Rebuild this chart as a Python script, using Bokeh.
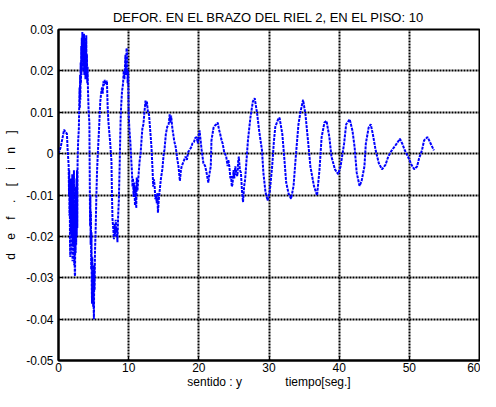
from bokeh.plotting import figure
from bokeh.models import Range1d, FixedTicker, CustomJSTickFormatter
from bokeh.embed import file_html
from bokeh.resources import INLINE

title_text = "DEFOR. EN EL BRAZO DEL RIEL 2, EN EL PISO: 10"
xlabel_text = "sentido : y" + "\u00a0" * 13 + "tiempo[seg.]"
ylabel_text = "\u00a0\u00a0\u00a0\u00a0".join(list("def.[in]"))
x_ticks = [0, 10, 20, 30, 40, 50, 60]
y_ticks = [-0.05, -0.04, -0.03, -0.02, -0.01, 0.0, 0.01, 0.02, 0.03]

# time [s] and deformation [in]
t = [0.0, 0.3, 0.6, 0.8, 1.0, 1.2, 1.3,
     1.45, 1.5, 1.53, 1.56, 1.6, 1.64, 1.68, 1.72, 1.76, 1.8, 1.84, 1.88, 1.92, 1.96,
     2.0, 2.04, 2.08, 2.12, 2.16, 2.2, 2.24, 2.28, 2.32, 2.36, 2.4, 2.44, 2.48, 2.52,
     2.56, 2.6, 2.64, 2.68, 2.72,
     2.8, 2.9, 3.0, 3.04, 3.08, 3.12, 3.16, 3.2, 3.24, 3.28, 3.32, 3.36, 3.4, 3.44,
     3.48, 3.52, 3.56, 3.6, 3.64, 3.68, 3.72, 3.76, 3.8, 3.84, 3.88, 3.92, 3.96, 4.0,
     4.05, 4.1, 4.15, 4.2, 4.3, 4.4,
     4.45, 4.5, 4.54, 4.58, 4.62, 4.66, 4.7, 4.74, 4.78, 4.82, 4.86, 4.9, 4.94, 4.98,
     5.02, 5.05, 5.1, 5.15, 5.2, 5.3, 5.4, 5.5,
     5.6, 5.75, 5.83, 5.95, 6.07, 6.2, 6.3, 6.4, 6.5, 6.6, 6.7, 6.9, 7.0, 7.1, 7.2,
     7.35, 7.55, 7.62, 7.7, 7.8, 7.9, 8.0, 8.08, 8.15, 8.25, 8.32, 8.4, 8.5, 8.6, 8.7,
     8.75, 8.85, 8.93, 9.05, 9.2, 9.3, 9.4, 9.54, 9.62, 9.7, 9.77, 9.85, 9.92, 10.0, 10.1,
     10.24, 10.35, 10.46, 10.55, 10.62, 10.7, 10.8, 10.9, 11.0, 11.08, 11.15, 11.25, 11.4, 11.55, 11.7,
     11.86, 11.95, 12.1, 12.2, 12.3, 12.4, 12.5, 12.6, 12.75, 12.9, 13.1, 13.25, 13.4, 13.5, 13.6,
     13.7, 13.8, 13.9, 14.0, 14.1, 14.17, 14.3, 14.4, 14.6, 14.8, 15.0, 15.1, 15.3, 15.5, 15.7,
     15.85, 15.95, 16.05, 16.2, 16.35, 16.5, 16.7, 16.9, 17.1, 17.3, 17.45, 17.55, 17.8, 18.1, 18.3,
     18.5, 18.66, 18.9, 19.1, 19.3, 19.5, 19.7, 19.85, 19.96, 20.1, 20.2, 20.4, 20.65, 20.9, 21.1,
     21.35, 21.5, 21.7, 21.8, 22.1, 22.3, 22.5, 22.7, 22.85, 23.05, 23.2, 23.4, 23.6, 23.9, 24.1,
     24.2, 24.35, 24.5, 24.6, 24.7, 24.8, 24.95, 25.05, 25.2, 25.35, 25.5, 25.6, 25.7, 25.85, 26.0,
     26.15, 26.3, 26.45, 26.6, 26.8, 27.0, 27.35, 27.7, 27.96, 28.3, 28.6, 29.0, 29.2, 29.5, 29.8,
     30.1, 30.45, 30.7, 30.9, 31.3, 31.5, 31.9, 32.2, 32.45, 32.8, 33.15, 33.5, 33.85, 34.2, 34.5,
     34.86, 35.2, 35.6, 35.9, 36.4, 36.85, 37.2, 37.5, 37.9, 38.2, 38.6, 38.9, 39.4, 39.86, 40.2,
     40.7, 41.0, 41.5, 41.9, 42.2, 42.5, 42.9, 43.2, 43.6, 43.8, 44.2, 44.5, 44.8, 45.2, 45.65,
     46.1, 46.6, 47.0, 47.5, 48.2, 48.65, 49.0, 49.35, 49.8, 50.3, 50.7, 51.1, 51.4, 51.8, 52.1,
     52.6, 53.05, 53.5]

d = [0.0, 0.0015, 0.004, 0.0058, 0.0052, 0.0048, 0.001,
     -0.003, -0.010, -0.004, -0.015, -0.006, -0.022, -0.025, -0.008, -0.019, -0.006, -0.024, -0.010, -0.020, -0.005,
     -0.026, -0.012, -0.022, -0.008, -0.018, -0.004, -0.027, -0.015, -0.029, -0.0296, -0.012, -0.024, -0.008, -0.022,
     -0.006, -0.020, -0.004, -0.018, -0.002,
     0.003, 0.006, 0.016, 0.011, 0.019, 0.013, 0.022, 0.017, 0.026, 0.019, 0.028, 0.021, 0.0294, 0.022,
     0.029, 0.020, 0.028, 0.021, 0.029, 0.019, 0.027, 0.020, 0.028, 0.018, 0.026, 0.019, 0.0286, 0.018,
     0.024, 0.017, 0.021, 0.0153, 0.010, 0.0075,
     -0.005, -0.0175, -0.010, -0.022, -0.014, -0.028, -0.019, -0.032, -0.0363, -0.025, -0.035, -0.028, -0.037, -0.030,
     -0.038, -0.040, -0.027, -0.033, -0.0238, -0.018, -0.010, -0.004,
     0.0, 0.005, 0.008, 0.0125, 0.0145, 0.016, 0.0145, 0.0175, 0.0165, 0.0178, 0.0168, 0.0176, 0.0115, 0.008, 0.0059,
     0.003, -0.0019, -0.010, -0.016, -0.018, -0.0207, -0.017, -0.020, -0.016, -0.019, -0.018, -0.0214, -0.015, -0.0113, -0.004,
     0.0, 0.008, 0.0115, 0.015, 0.0169, 0.020, 0.018, 0.0239, 0.019, 0.0255, 0.0247, 0.017, 0.020, 0.0098, 0.006,
     0.0028, -0.001, -0.0042, -0.008, -0.006, -0.0105, -0.007, -0.0125, -0.008, -0.0132, -0.0058, -0.009, -0.0054, -0.002, 0.0,
     0.004, 0.006, 0.0071, 0.009, 0.011, 0.0128, 0.0115, 0.0126, 0.010, 0.0094, 0.005, 0.0016, -0.0038, -0.008, -0.0062,
     -0.0078, -0.011, -0.0101, -0.012, -0.0095, -0.0143, -0.011, -0.0093, -0.006, -0.0038, 0.0, 0.0009, 0.0047, 0.0065, 0.0071,
     0.0095, 0.0075, 0.0092, 0.0065, 0.0047, 0.003, 0.0016, -0.001, -0.0031, -0.0066, -0.004, -0.0031, -0.002, -0.0007, -0.0015,
     0.0005, 0.0008, 0.0015, 0.0025, 0.0028, 0.0038, 0.004, 0.0025, 0.004, 0.0056, 0.004, 0.0009, -0.0023, -0.003, -0.0046,
     -0.007, -0.005, -0.0031, 0.0032, 0.0063, 0.0068, 0.0071, 0.0075, 0.006, 0.0047, 0.0035, 0.0024, 0.0005, -0.0007, -0.003,
     -0.0015, -0.0031, -0.006, -0.0054, -0.008, -0.0074, -0.004, -0.006, -0.0031, -0.005, -0.0054, -0.002, -0.0007, -0.004, -0.0046,
     -0.009, -0.0117, -0.008, -0.0062, -0.0015, 0.0032, 0.0087, 0.0126, 0.0134, 0.0098, 0.0055, 0.0008, -0.0046, -0.0093, -0.0113,
     -0.0093, -0.0031, 0.003, 0.0065, 0.0083, 0.0087, 0.0047, -0.0015, -0.007, -0.0097, -0.0109, -0.0078, 0.0, 0.0071, 0.0102,
     0.013, 0.0094, 0.0024, -0.0031, -0.0078, -0.0101, -0.0038, 0.004, 0.0075, 0.0079, 0.004, -0.0007, -0.0038, -0.005, -0.0031,
     0.0024, 0.0071, 0.0083, 0.0055, 0.0016, -0.0046, -0.0078, -0.0066, -0.0031, 0.0024, 0.0063, 0.0071, 0.0047, 0.0008, -0.0023,
     -0.0038, -0.0027, -0.0007, 0.0008, 0.0024, 0.0036, 0.0024, 0.0008, -0.0007, -0.0027, -0.0038, -0.0031, -0.0011, 0.0008, 0.0032,
     0.004, 0.0024, 0.0008]

assert len(t) == len(d), (len(t), len(d))

FONT = "Liberation Sans"

p = figure(width=480, height=391, output_backend="svg", toolbar_location=None,
           x_range=Range1d(0, 60), y_range=Range1d(-0.05, 0.03),
           min_border_left=58, min_border_right=1, min_border_top=29, min_border_bottom=31,
           background_fill_color="white", border_fill_color="white")

p.title.text = title_text
p.title.align = "center"
p.title.text_font = FONT
p.title.text_font_size = "13px"
p.title.text_font_style = "normal"
p.title.text_color = "black"
p.title.standoff = 10

p.line(t, d, line_color="#0000ff", line_width=2, line_dash="3 1")

p.xaxis.ticker = FixedTicker(ticks=x_ticks)
p.yaxis.ticker = FixedTicker(ticks=y_ticks)
p.yaxis.formatter = CustomJSTickFormatter(code="if (Math.abs(tick) < 1e-9) { return '0'; } return tick.toFixed(2);")
p.xaxis.axis_label = xlabel_text
p.yaxis.axis_label = ylabel_text

for ax in (p.xaxis, p.yaxis):
    ax.axis_label_text_font = FONT
    ax.axis_label_text_font_size = "12px"
    ax.axis_label_text_font_style = "normal"
    ax.axis_label_text_color = "black"
    ax.major_label_text_font = FONT
    ax.major_label_text_font_size = "12px"
    ax.major_label_text_color = "black"
    ax.axis_line_color = "black"
    ax.axis_line_width = 2
    ax.major_tick_in = 4
    ax.major_tick_out = 0
    ax.major_tick_line_color = "black"
    ax.minor_tick_line_color = None

p.xaxis.major_label_standoff = 2
p.xaxis.axis_label_standoff = 0
p.yaxis.major_label_standoff = 5
p.yaxis.axis_label_standoff = 5

for g in (p.xgrid, p.ygrid):
    g.grid_line_color = "black"
    g.grid_line_width = 2
    g.grid_line_dash = "2 1"
    g.grid_line_alpha = 1.0

p.outline_line_color = "black"
p.outline_line_width = 2

open("out.html", "w").write(file_html(p, INLINE))
